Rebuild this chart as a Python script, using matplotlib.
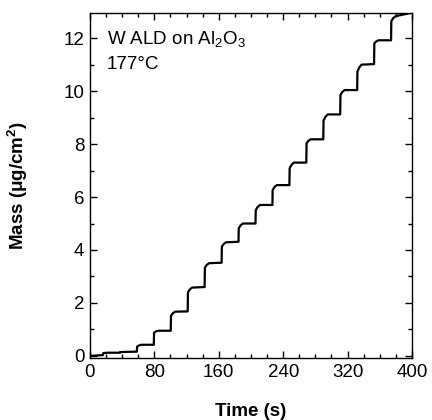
import matplotlib
matplotlib.use('Agg')
import matplotlib.pyplot as plt
from matplotlib.ticker import MultipleLocator

plt.rcParams['font.family'] = ['Liberation Sans', 'DejaVu Sans']
plt.rcParams['mathtext.fontset'] = 'custom'
plt.rcParams['mathtext.rm'] = 'Liberation Sans'
plt.rcParams['mathtext.it'] = 'Liberation Sans:italic'
plt.rcParams['mathtext.bf'] = 'Liberation Sans:bold'

# ALD cycle data
cycle_start = [16.1, 37.2, 58.2, 79.3, 100.3, 121.4, 142.4, 163.5, 184.5,
               205.6, 226.6, 247.7, 268.7, 289.8, 310.8, 331.9, 352.9, 374.0]
mass_before = [0.03, 0.12, 0.16, 0.42, 0.95, 1.68, 2.60, 3.52, 4.31,
               5.00, 5.70, 6.45, 7.30, 8.18, 9.12, 10.04, 11.02, 11.92]
mass_jump = [0.10, 0.14, 0.35, 0.88, 1.51, 2.40, 3.33, 4.12, 4.82,
             5.50, 6.26, 7.08, 8.03, 8.88, 9.85, 10.73, 11.80, 12.64]
mass_settled = [0.12, 0.15, 0.42, 0.95, 1.67, 2.58, 3.50, 4.29, 5.00,
                5.70, 6.45, 7.30, 8.18, 9.12, 10.04, 11.00, 11.92, 12.83]
t_end = 398.0
mass_end = 12.95

# build the step trace: jump, short knee, then flat until next cycle
time = [0.0]
mass = [0.0]
for i, ts in enumerate(cycle_start):
    time += [ts, ts + 0.3, ts + 2.5, ts + 5.5]
    mass += [mass_before[i], mass_jump[i],
             mass_jump[i] + 0.6 * (mass_settled[i] - mass_jump[i]), mass_settled[i]]
time += [t_end]
mass += [mass_end]

fig = plt.figure(figsize=(4.32, 4.2), dpi=100)
ax = fig.add_axes([0.2083, 0.1476, 0.7454, 0.8214])

ax.plot(time, mass, color='black', linewidth=1.6)

ax.set_xlim(0, 400)
ax.set_ylim(-0.08, 12.95)
ax.xaxis.set_major_locator(MultipleLocator(80))
ax.xaxis.set_minor_locator(MultipleLocator(20))
ax.yaxis.set_major_locator(MultipleLocator(2))
ax.yaxis.set_minor_locator(MultipleLocator(1))
ax.tick_params(which='both', direction='in', top=True, right=True, labelsize=13.5, width=1)
ax.tick_params(which='major', length=5, pad=4)
ax.tick_params(which='minor', length=3)
for s in ax.spines.values():
    s.set_linewidth(1.0)

ax.set_xlabel('Time (s)', fontsize=13.5, fontweight='bold', labelpad=16)
ax.set_ylabel(r'Mass ($\mathbf{\mu}$g/cm$^\mathbf{2}$)', fontsize=13.5, fontweight='bold', labelpad=24)

ax.text(0.053, 0.955, r'W ALD on Al$_2$O$_3$', transform=ax.transAxes, fontsize=13.5, va='top')
ax.text(0.053, 0.875, '177°C', transform=ax.transAxes, fontsize=13.5, va='top')

fig.savefig('out.png', dpi=100)
